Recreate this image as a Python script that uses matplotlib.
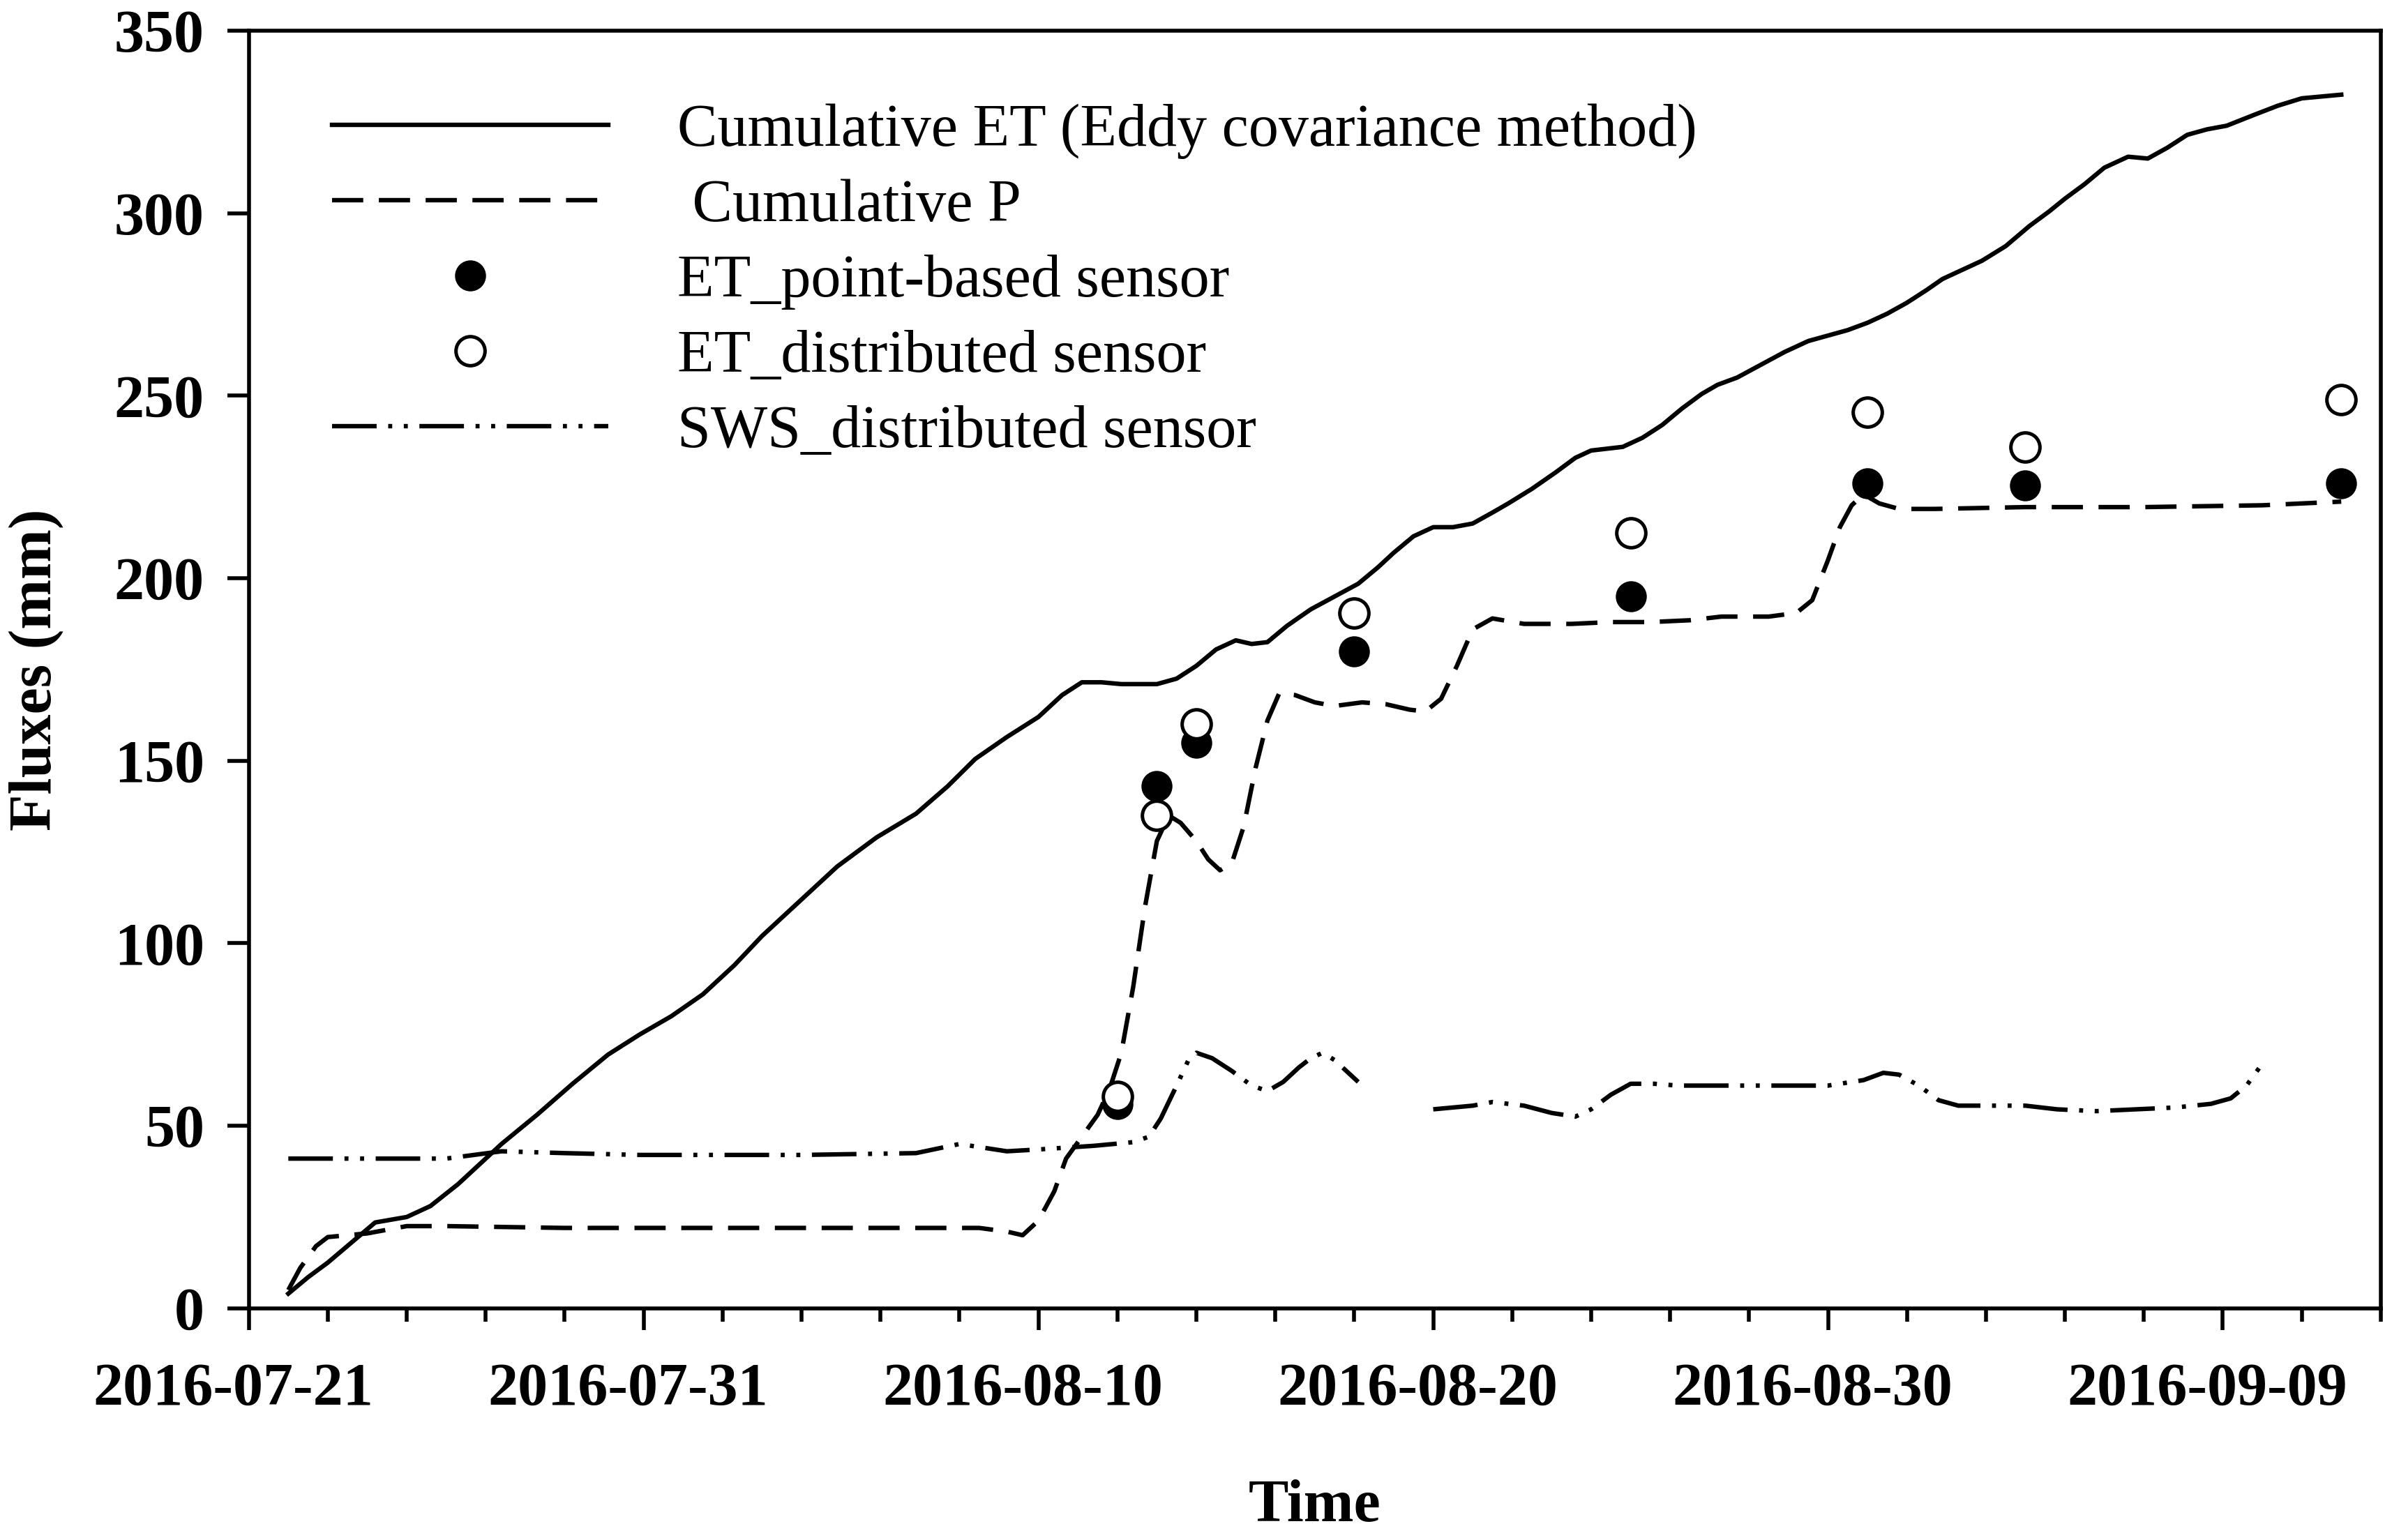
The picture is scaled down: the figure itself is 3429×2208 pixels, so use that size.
import numpy as np
import matplotlib
matplotlib.use("Agg")
import matplotlib.pyplot as plt
import matplotlib.dates as mdates
import matplotlib.transforms as mtransforms
from datetime import datetime, timedelta

plt.rcParams['font.family'] = ['Liberation Serif', 'DejaVu Serif']

start = datetime(2016, 7, 21)

# Cumulative ET (eddy covariance): day offset from 2016-07-21, value (mm)
et_days = [1.0, 1.5, 2.0, 2.6, 3.2, 4.0, 4.6, 5.3, 6.4, 7.3, 8.2, 9.1, 9.9, 10.7, 11.5, 12.3,
           13.0, 14.0, 14.9, 15.9, 16.9, 17.7, 18.4, 19.2, 20.0, 20.6, 21.1, 21.6, 22.1, 23.0,
           23.5, 24.0, 24.5, 25.0, 25.4, 25.8, 26.3, 26.9, 27.5, 28.1, 28.6, 29.0, 29.5, 30.0,
           30.5, 31.0, 31.5, 31.9, 32.5, 33.1, 33.6, 34.0, 34.8, 35.3, 35.8, 36.3, 36.8, 37.2,
           37.7, 38.3, 38.9, 39.5, 40.0, 40.5, 41.0, 41.5, 42.0, 42.5, 42.9, 43.4, 43.9, 44.5,
           45.1, 45.6, 46.0, 46.5, 47.0, 47.6, 48.1, 48.6, 49.1, 49.6, 50.1, 50.8, 51.4, 52.0,
           52.5, 53.0]
et_vals = [4.0, 8.5, 12.5, 18.0, 23.5, 25.0, 28.0, 34.0, 45.0, 53.0, 61.5, 69.5, 75.0, 80.0,
           86.0, 94.0, 102.0, 112.0, 121.0, 129.0, 135.5, 143.0, 150.5, 156.5, 162.0, 168.0,
           171.5, 171.5, 171.0, 171.0, 172.5, 176.0, 180.5, 183.0, 182.0, 182.5, 187.0, 191.5,
           195.0, 198.5, 203.0, 207.0, 211.5, 214.0, 214.0, 215.0, 218.0, 220.5, 224.5, 229.0,
           233.0, 235.0, 236.0, 238.5, 242.0, 246.5, 250.5, 253.0, 255.0, 258.5, 262.0, 265.0,
           266.5, 268.0, 270.0, 272.5, 275.5, 279.0, 282.0, 284.5, 287.0, 291.0, 296.5, 300.5,
           304.0, 308.0, 312.5, 315.5, 315.0, 318.0, 321.5, 323.0, 324.0, 327.0, 329.5, 331.5,
           332.0, 332.5]

# Cumulative P
p_days = [1.0, 1.3, 1.7, 2.0, 2.5, 3.0, 3.5, 4.0, 5.0, 8.0, 12.0, 16.0, 18.5, 19.2, 19.6,
          20.0, 20.4, 20.7, 21.1, 21.5, 21.8, 22.1, 22.4, 22.7, 23.0, 23.3, 23.6, 24.0, 24.3,
          24.6, 24.9, 25.2, 25.5, 25.8, 26.1, 26.5, 27.0, 27.5, 28.2, 28.8, 29.4, 29.8, 30.2,
          30.6, 31.0, 31.5, 32.3, 33.5, 34.5, 35.5, 36.5, 37.3, 38.5, 39.2, 39.6, 40.0, 40.3,
          40.6, 40.9, 41.3, 41.8, 42.7, 45.0, 48.0, 51.0, 53.0]
p_vals = [5.0, 11.0, 17.0, 19.5, 20.0, 20.5, 21.5, 22.5, 22.5, 22.0, 22.0, 22.0, 22.0, 21.0,
          20.0, 24.0, 32.0, 41.0, 47.0, 53.0, 60.0, 70.0, 88.0, 110.0, 128.0, 135.0, 133.0,
          128.0, 123.0, 120.0, 122.0, 132.0, 148.0, 161.0, 168.5, 168.0, 166.0, 165.0, 166.0,
          165.5, 164.0, 163.5, 167.0, 176.0, 186.0, 189.0, 187.5, 187.5, 188.0, 188.0, 188.5,
          189.5, 189.5, 190.5, 194.0, 205.0, 214.0, 220.0, 223.0, 220.5, 219.0, 219.0, 219.5,
          219.5, 220.0, 221.0]

# SWS distributed sensor (gap between about day 28 and day 30)
sws_days = [1.0, 3.0, 5.0, 6.4, 8.0, 9.9, 12.0, 14.0, 16.9, 18.0, 19.2, 20.0, 20.7, 21.4,
            21.9, 22.4, 22.8, 23.1, 23.5, 23.8, 24.0, 24.4, 24.9, 25.4, 25.8, 26.2, 26.6,
            26.9, 27.2, 27.5, 27.9, 28.1, 29.0, 30.0, 30.5, 31.0, 31.5, 32.3, 33.0, 33.6,
            34.0, 34.5, 35.0, 35.6, 36.2, 38.1, 40.0, 40.9, 41.4, 41.8, 42.3, 42.8, 43.3,
            43.9, 45.0, 45.8, 46.8, 47.8, 48.8, 49.7, 50.2, 50.6, 51.0]
sws_vals = [41.0, 41.0, 41.0, 43.0, 42.5, 42.0, 42.0, 42.0, 42.5, 45.0, 43.0, 43.5, 44.0,
            44.5, 45.0, 45.5, 47.0, 52.0, 61.0, 68.0, 70.0, 68.5, 65.0, 61.0, 59.5, 62.0,
            66.0, 68.5, 70.0, 68.0, 64.0, 62.0, np.nan, 54.5, 55.0, 55.5, 56.5, 55.5, 53.5,
            52.5, 54.5, 58.5, 61.5, 61.5, 61.0, 61.0, 61.0, 62.5, 64.5, 64.0, 61.0, 57.0,
            55.5, 55.5, 55.5, 54.5, 54.0, 54.5, 55.0, 56.0, 57.5, 61.0, 67.0]

# Sensor ET points
pt_days = [22, 23, 24, 28, 35, 41, 45, 53]
et_point = [56.0, 143.0, 155.0, 180.0, 195.0, 226.0, 225.5, 226.0]
et_distr = [58.0, 135.0, 160.0, 190.5, 212.5, 245.5, 236.0, 249.0]

labels = ["Cumulative ET (Eddy covariance method)", " Cumulative P",
          "ET_point-based sensor", "ET_distributed sensor", "SWS_distributed sensor"]
xtick_days = [0, 10, 20, 30, 40, 50]
yticks = [0, 50, 100, 150, 200, 250, 300, 350]


def to_dates(days):
    return [start + timedelta(days=float(d)) for d in days]


fig = plt.figure(figsize=(17.15, 11.04), dpi=200)
ax = fig.add_axes([0.104, 0.1505, 0.891, 0.8295])

lw = 2.3
ax.plot(to_dates(et_days), et_vals, color='black', lw=lw, ls='-', label=labels[0])
ax.plot(to_dates(p_days), p_vals, color='black', lw=lw, ls=(0, (7, 3.5)), label=labels[1])
ax.plot(to_dates(pt_days), et_point, ls='none', marker='o', ms=15, mfc='black', mec='black',
        label=labels[2])
ax.plot(to_dates(pt_days), et_distr, ls='none', marker='o', ms=15, mfc='white', mec='black',
        mew=1.8, label=labels[3])
ax.plot(to_dates(sws_days), sws_vals, color='black', lw=lw, ls=(0, (10, 2.6, 0.9, 2.6, 0.9, 2.6)),
        label=labels[4])

ax.set_xlim(start, start + timedelta(days=54))
ax.set_ylim(0, 350)
ax.set_xticks(to_dates(xtick_days))
ax.xaxis.set_major_formatter(mdates.DateFormatter('%Y-%m-%d'))
ax.set_xticks(to_dates(range(0, 55, 2)), minor=True)
ax.set_yticks(yticks)

for sp in ax.spines.values():
    sp.set_linewidth(2.0)

ax.tick_params(axis='both', which='major', direction='out', length=11, width=2.0,
               labelsize=31, pad=12)
ax.tick_params(axis='x', which='major', pad=17)
ax.tick_params(axis='x', which='minor', direction='out', length=7, width=2.0)
ax.tick_params(axis='y', which='minor', left=False)
offset = mtransforms.ScaledTranslation(-22 / 200, 0, fig.dpi_scale_trans)
for t in ax.get_xticklabels():
    t.set_fontweight('bold')
    t.set_transform(t.get_transform() + offset)
for t in ax.get_yticklabels():
    t.set_fontweight('bold')

ax.set_xlabel('Time', fontsize=31, fontweight='bold', labelpad=32)
ax.set_ylabel('Fluxes (mm)', fontsize=31, fontweight='bold', labelpad=26)

ax.legend(loc='upper left', bbox_to_anchor=(0.039, 0.943), frameon=False, fontsize=31,
          handlelength=4.6, handletextpad=1.15, labelspacing=0.33, borderaxespad=0,
          borderpad=0, numpoints=1)

fig.savefig('out.png', dpi=200)
